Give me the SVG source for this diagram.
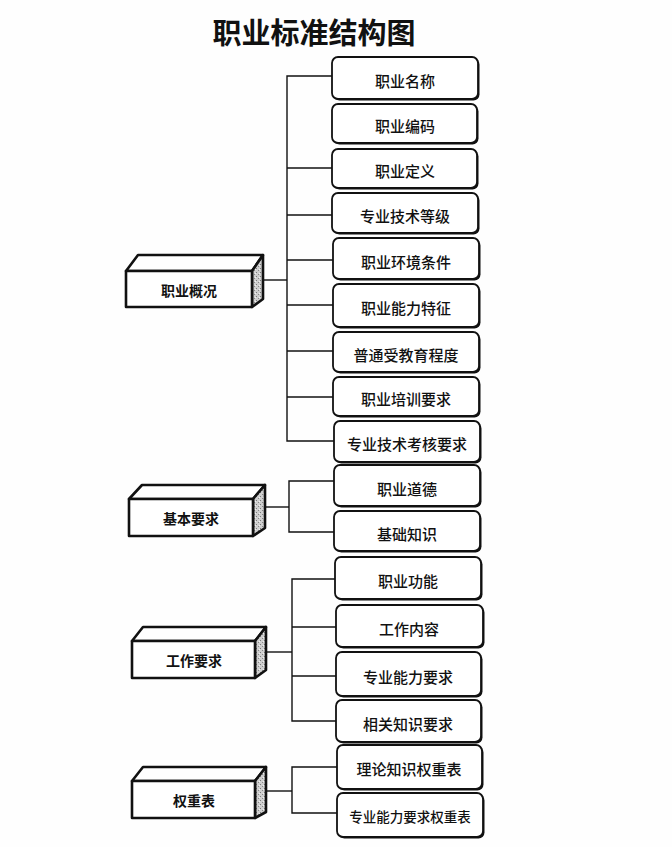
<svg xmlns="http://www.w3.org/2000/svg" width="672" height="847" viewBox="0 0 672 847">
<defs>
<pattern id="stip" width="4" height="4" patternUnits="userSpaceOnUse">
<rect width="4" height="4" fill="#cfcfcf"/>
<rect x="0" y="0" width="1" height="1" fill="#7a7a7a"/>
<rect x="2" y="2" width="1" height="1" fill="#888"/>
<rect x="3" y="1" width="1" height="1" fill="#f2f2f2"/>
</pattern>
</defs>
<style>
.t{font-family:"Noto Sans CJK SC","Noto Sans CJK JP",sans-serif;fill:#111;text-anchor:middle;dominant-baseline:central}
.title{font-size:29px;font-weight:700}
.bt{font-size:15px;font-weight:500}
.lt{font-size:14px;font-weight:700}
.sh{fill:#111}
.bx{fill:#fff;stroke:#111;stroke-width:1.8}
.face{fill:#fff;stroke:#111;stroke-width:2.6;stroke-linejoin:round}
.side{fill:url(#stip);stroke:#111;stroke-width:2.6;stroke-linejoin:round}
.c{stroke:#111;stroke-width:1.4;fill:none}
</style>
<rect width="672" height="847" fill="#fefefe"/>
<text class="t title" x="314" y="31">职业标准结构图</text>

<g id="connectors">
<polyline class="c" points="333,76 287,76 287,441 334,441"/>
<line class="c" x1="287" y1="168" x2="332" y2="168"/>
<line class="c" x1="287" y1="215" x2="332" y2="215"/>
<line class="c" x1="287" y1="260" x2="333" y2="260"/>
<line class="c" x1="287" y1="305" x2="333" y2="305"/>
<line class="c" x1="287" y1="351" x2="333" y2="351"/>
<line class="c" x1="287" y1="397" x2="333" y2="397"/>
<line class="c" x1="263" y1="280" x2="287" y2="280"/>
<polyline class="c" points="334,481 289,481 289,532 334,532"/>
<line class="c" x1="265" y1="507" x2="289" y2="507"/>
<polyline class="c" points="335,579 292,579 292,721 336,721"/>
<line class="c" x1="292" y1="627" x2="336" y2="627"/>
<line class="c" x1="292" y1="676" x2="336" y2="676"/>
<line class="c" x1="266" y1="652" x2="292" y2="652"/>
<polyline class="c" points="337,767 292,767 292,813 337,813"/>
<line class="c" x1="266" y1="791" x2="292" y2="791"/>
</g>

<g id="n-zygk">
<polygon class="face" points="126,271 138,255 263,255 252,271"/>
<polygon class="side" points="252,271 263,255 263,299 252,307"/>
<rect class="face" x="126" y="271" width="126" height="36"/>
<text class="t lt" x="189" y="290">职业概况</text>
</g>
<g id="n-jbyq">
<polygon class="face" points="129,499 142,485 265,485 253,499"/>
<polygon class="side" points="253,499 265,485 265,528 253,536"/>
<rect class="face" x="129" y="499" width="124" height="37"/>
<text class="t lt" x="191" y="518">基本要求</text>
</g>
<g id="n-gzyq">
<polygon class="face" points="132,641 143,627 266,627 255,641"/>
<polygon class="side" points="255,641 266,627 266,670 255,678"/>
<rect class="face" x="132" y="641" width="123" height="37"/>
<text class="t lt" x="194" y="660">工作要求</text>
</g>
<g id="n-qzb">
<polygon class="face" points="132,781 143,767 266,767 255,781"/>
<polygon class="side" points="255,781 266,767 266,812 255,818"/>
<rect class="face" x="132" y="781" width="123" height="37"/>
<text class="t lt" x="194" y="800">权重表</text>
</g>

<g id="b1"><rect class="sh" x="333.5" y="58.5" width="146" height="42" rx="6"/><rect class="bx" x="332" y="57" width="146" height="42" rx="6"/><text class="t bt" x="405" y="80">职业名称</text></g>
<g id="b2"><rect class="sh" x="333.5" y="105.5" width="145" height="39" rx="6"/><rect class="bx" x="332" y="104" width="145" height="39" rx="6"/><text class="t bt" x="405" y="125.5">职业编码</text></g>
<g id="b3"><rect class="sh" x="333.5" y="150.5" width="145" height="39" rx="6"/><rect class="bx" x="332" y="149" width="145" height="39" rx="6"/><text class="t bt" x="405" y="170.5">职业定义</text></g>
<g id="b4"><rect class="sh" x="333.5" y="194.5" width="146" height="40" rx="6"/><rect class="bx" x="332" y="193" width="146" height="40" rx="6"/><text class="t bt" x="405" y="215">专业技术等级</text></g>
<g id="b5"><rect class="sh" x="334.5" y="239.5" width="146" height="41" rx="6"/><rect class="bx" x="333" y="238" width="146" height="41" rx="6"/><text class="t bt" x="406" y="261">职业环境条件</text></g>
<g id="b6"><rect class="sh" x="334.5" y="285.5" width="146" height="43" rx="6"/><rect class="bx" x="333" y="284" width="146" height="43" rx="6"/><text class="t bt" x="406" y="307.5">职业能力特征</text></g>
<g id="b7"><rect class="sh" x="334.5" y="333.5" width="146" height="40" rx="6"/><rect class="bx" x="333" y="332" width="146" height="40" rx="6"/><text class="t bt" x="406" y="354">普通受教育程度</text></g>
<g id="b8"><rect class="sh" x="334.5" y="378.5" width="146" height="39" rx="6"/><rect class="bx" x="333" y="377" width="146" height="39" rx="6"/><text class="t bt" x="406" y="398.5">职业培训要求</text></g>
<g id="b9"><rect class="sh" x="335.5" y="422.5" width="146" height="41" rx="6"/><rect class="bx" x="334" y="421" width="146" height="41" rx="6"/><text class="t bt" x="407" y="443.5">专业技术考核要求</text></g>
<g id="b10"><rect class="sh" x="335.5" y="466.5" width="146" height="41" rx="6"/><rect class="bx" x="334" y="465" width="146" height="41" rx="6"/><text class="t bt" x="407" y="488">职业道德</text></g>
<g id="b11"><rect class="sh" x="335.5" y="512.5" width="146" height="40" rx="6"/><rect class="bx" x="334" y="511" width="146" height="40" rx="6"/><text class="t bt" x="407" y="533">基础知识</text></g>
<g id="b12"><rect class="sh" x="336.5" y="558.5" width="146" height="42" rx="6"/><rect class="bx" x="335" y="557" width="146" height="42" rx="6"/><text class="t bt" x="408" y="580">职业功能</text></g>
<g id="b13"><rect class="sh" x="337.5" y="606.5" width="147" height="42" rx="6"/><rect class="bx" x="336" y="605" width="147" height="42" rx="6"/><text class="t bt" x="409" y="628">工作内容</text></g>
<g id="b14"><rect class="sh" x="337.5" y="653.5" width="145" height="44" rx="6"/><rect class="bx" x="336" y="652" width="145" height="44" rx="6"/><text class="t bt" x="408" y="676">专业能力要求</text></g>
<g id="b15"><rect class="sh" x="337.5" y="701.5" width="145" height="42" rx="6"/><rect class="bx" x="336" y="700" width="145" height="42" rx="6"/><text class="t bt" x="408" y="723">相关知识要求</text></g>
<g id="b16"><rect class="sh" x="338.5" y="746.5" width="145" height="44" rx="6"/><rect class="bx" x="337" y="745" width="145" height="44" rx="6"/><text class="t bt" x="409" y="768">理论知识权重表</text></g>
<g id="b17"><rect class="sh" x="338.5" y="794.5" width="146" height="44" rx="6"/><rect class="bx" x="337" y="793" width="146" height="44" rx="6"/><text class="t bt" x="410" y="816" style="font-size:13.5px">专业能力要求权重表</text></g>
</svg>
